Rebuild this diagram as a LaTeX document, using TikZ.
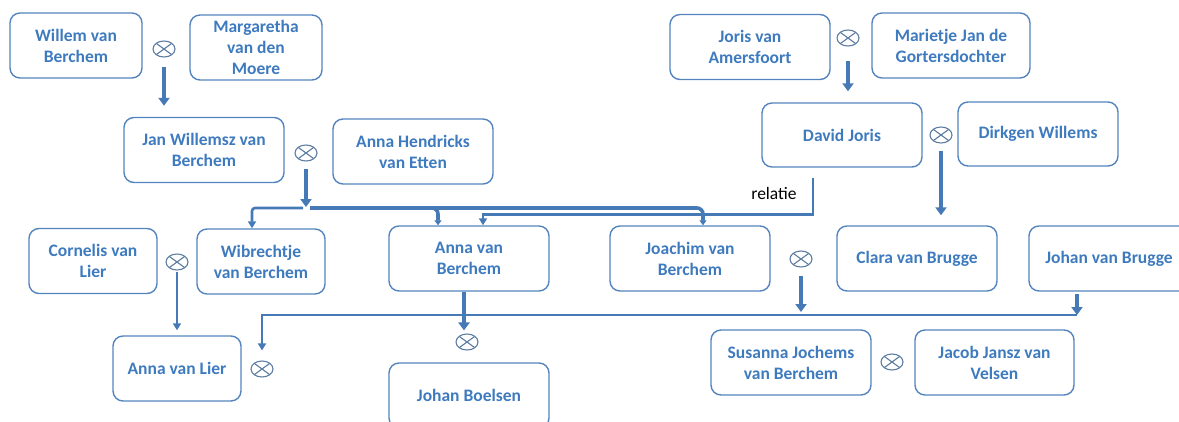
\documentclass[tikz,border=0pt]{standalone}
\usepackage{fontspec}
\setmainfont{Carlito}
\usetikzlibrary{shapes.geometric,arrows.meta}
\definecolor{boxc}{RGB}{84,132,190}
\definecolor{txtc}{RGB}{62,122,190}
\definecolor{arrc}{RGB}{70,122,182}
\definecolor{marc}{RGB}{92,124,162}
\begin{document}
\begin{tikzpicture}[x=1pt,y=-1pt,
  person/.style={draw=boxc, line width=1.4pt, rounded corners=10pt, align=center,
    text=txtc, font=\fontsize{17.5}{21}\selectfont\bfseries, inner sep=0pt, minimum height=65pt},
  w128/.style={minimum width=128pt},
  w160/.style={minimum width=160pt},
  marr/.style={ellipse, draw=marc, line width=1.1pt, minimum width=22pt, minimum height=16pt,
    inner sep=0pt, path picture={\draw[marc, line width=1.1pt]
      (path picture bounding box.north west) -- (path picture bounding box.south east)
      (path picture bounding box.north east) -- (path picture bounding box.south west);}},
  conn/.style={draw=arrc, line width=4pt, -{Triangle[length=8pt,width=11pt]}},
  connt/.style={draw=arrc, line width=2.6pt, -{Triangle[length=7pt,width=8pt]}},
  plainc/.style={draw=arrc, line width=3.6pt}]
\useasboundingbox (0,0) rectangle (1179,421);
\clip (0,0) rectangle (1179,421);

% persons
\node[person,w128,minimum width=132pt] (W)  at (76,45.5)  {Willem van\\Berchem};
\node[person,w128,minimum width=132pt] (M)  at (256,47.5) {Margaretha\\van den\\Moere};
\node[person,w160] (JW) at (204,150)  {Jan Willemsz van\\Berchem};
\node[person,w160] (AH) at (413,151.5){Anna Hendricks\\van Etten};
\node[person,w160] (JA) at (750,47)   {Joris van\\Amersfoort};
\node[person,w160,minimum width=158pt] (MJ) at (951,45.5) {Marietje Jan de\\Gortersdochter};
\node[person,w160,minimum height=64pt] (DJ) at (842,135) {David Joris};
\node[person,w160,minimum height=64pt] (DW) at (1038,134) {Dirkgen Willems};
\node[person,w128] (CL) at (93,261)   {Cornelis van\\Lier};
\node[person,w128] (WB) at (261,261.5){Wibrechtje\\van Berchem};
\node[person,w160] (AB) at (469,258.5){Anna van\\Berchem};
\node[person,w160] (JB) at (690,258.5){Joachim van\\Berchem};
\node[person,w160] (CB) at (917,258.5){Clara van Brugge};
\node[person,w160] (JvB) at (1109,258.5){Johan van Brugge};
\node[person,w128] (AL) at (177,368.5){Anna van Lier};
\node[person,w160] (JBo) at (469,395.5){Johan Boelsen};
\node[person,w160] (SJ) at (791,362.5){Susanna Jochems\\van Berchem};
\node[person,w160,minimum width=159pt] (JJ) at (994.5,362.5){Jacob Jansz van\\Velsen};

% marriage symbols
\node[marr] (ma) at (164,49) {};
\node[marr] (mb) at (306,153) {};
\node[marr] (mc) at (848,38) {};
\node[marr] (md) at (941,135) {};
\node[marr] (me) at (177,262) {};
\node[marr] (mf) at (262,369) {};
\node[marr] (mg) at (467,342) {};
\node[marr] (mh) at (801,259) {};
\node[marr] (mi) at (892,362) {};

% label
\node[font=\fontsize{17.5}{21}\selectfont, text=black, inner sep=0pt] (rel) at (774,193) {relatie};

% connectors
\draw[conn, shorten <=9pt, shorten >=11pt] (ma.south) -- (ma.south |- JW.north);
\draw[conn, shorten <=14pt, shorten >=11pt] (mc.south) -- (mc.south |- DJ.north);
\draw[conn, shorten <=7pt, shorten >=10pt] (md.south) -- (md.south |- CB.north);
\draw[connt, shorten <=1pt, shorten >=5pt] (me.south) -- (me.south |- AL.north);

\coordinate (jx) at (306,208);
\draw[conn, shorten <=7pt, shorten >=1pt] (mb.south) -- (mb.south |- jx);
\draw[connt, rounded corners=3pt] ([xshift=-3pt]jx) -| ([xshift=-9pt]WB.north);
\draw[plainc, rounded corners=6pt, -{Triangle[length=5pt,width=7pt]}] ([xshift=4pt]jx) -| ([xshift=-31pt]AB.north);
\draw[plainc, rounded corners=6pt, -{Triangle[length=5pt,width=7pt]}] ([xshift=4pt]jx) -| ([xshift=13pt]JB.north);

\draw[connt] ([xshift=-29pt,yshift=-10pt]DJ.south) -- ++(0,37) -| ([xshift=14pt]AB.north);

\coordinate (bl) at (1077,315);
\draw[conn, shorten <=2pt] ([xshift=-32pt]JvB.south) -- ([xshift=-32pt]JvB.south |- bl);
\draw[connt] (bl) -| ([yshift=10pt]mf.north);
\draw[conn, shorten >=3pt] ([xshift=-5pt]AB.south) -- ([xshift=-5pt]AB.south |- mg.north);
\draw[conn, shorten <=8pt, shorten >=3pt] (mh.south) -- (mh.south |- bl);
\end{tikzpicture}
\end{document}
